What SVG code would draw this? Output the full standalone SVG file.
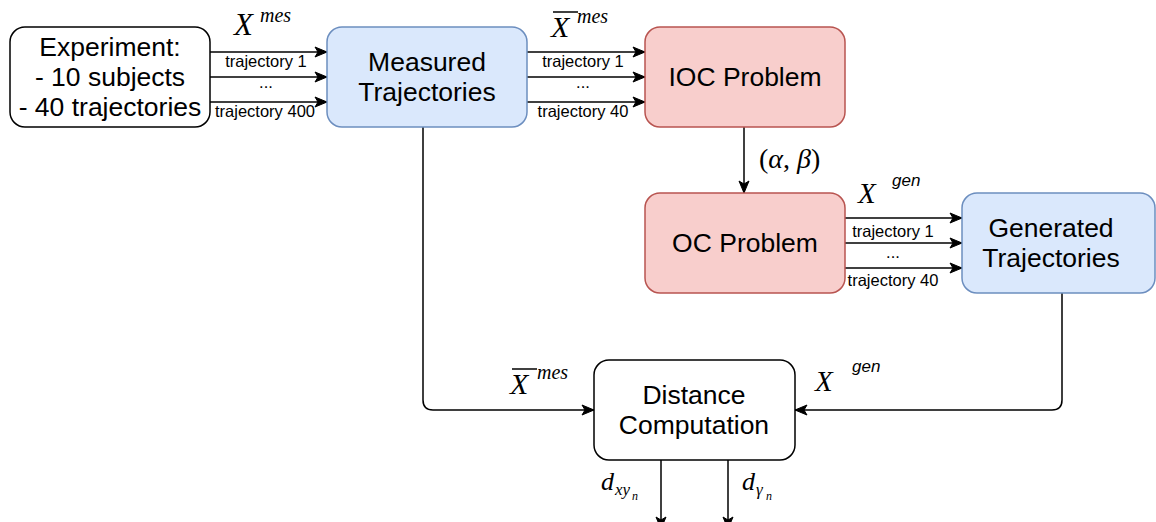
<svg xmlns="http://www.w3.org/2000/svg" width="1156" height="522" viewBox="0 0 1156 522">
<style>
.box{stroke-width:1.5}
.plain{fill:#ffffff;stroke:#000000}
.blue{fill:#dae8fc;stroke:#6c8ebf}
.red{fill:#f8cecc;stroke:#b85450}
.nt{font-family:"Liberation Sans",Arial,sans-serif;font-size:26.5px;fill:#000;text-anchor:middle}
.st{font-family:"Liberation Sans",Arial,sans-serif;font-size:16.5px;fill:#000;text-anchor:middle}
.m{font-family:"Liberation Serif","Times New Roman",serif;font-style:italic;fill:#000}
.mu{font-family:"Liberation Serif","Times New Roman",serif;fill:#000}
.ms{font-family:"Liberation Sans",Arial,sans-serif;font-style:italic;fill:#000}
.e{fill:none;stroke:#000;stroke-width:1.5}
</style>
<defs>
<marker id="arr" markerUnits="userSpaceOnUse" markerWidth="14" markerHeight="12" refX="12" refY="5" orient="auto" overflow="visible">
<path d="M0,0 L12,5 L0,10 L3,5 Z" fill="#000" stroke="#000" stroke-width="1"/>
</marker>
</defs>
<g id="connectors">
<line class="e" x1="210" y1="52" x2="327" y2="52" marker-end="url(#arr)"/>
<line class="e" x1="210" y1="77" x2="327" y2="77" marker-end="url(#arr)"/>
<line class="e" x1="210" y1="102" x2="327" y2="102" marker-end="url(#arr)"/>
<line class="e" x1="527" y1="52" x2="645" y2="52" marker-end="url(#arr)"/>
<line class="e" x1="527" y1="77" x2="645" y2="77" marker-end="url(#arr)"/>
<line class="e" x1="527" y1="102" x2="645" y2="102" marker-end="url(#arr)"/>
<line class="e" x1="744" y1="127" x2="744" y2="193" marker-end="url(#arr)"/>
<line class="e" x1="845" y1="218" x2="962" y2="218" marker-end="url(#arr)"/>
<line class="e" x1="845" y1="243" x2="962" y2="243" marker-end="url(#arr)"/>
<line class="e" x1="845" y1="268" x2="962" y2="268" marker-end="url(#arr)"/>
<path class="e" d="M423,127 L423,400 Q423,410 433,410 L594,410" marker-end="url(#arr)"/>
<path class="e" d="M1062,293 L1062,400 Q1062,410 1052,410 L795,410" marker-end="url(#arr)"/>
<line class="e" x1="661" y1="460" x2="661" y2="529" marker-end="url(#arr)"/>
<line class="e" x1="728" y1="460" x2="728" y2="529" marker-end="url(#arr)"/>
<text class="st" x="266" y="67">trajectory 1</text>
<text class="st" x="266" y="88">...</text>
<text class="st" x="265" y="117">trajectory 400</text>
<text class="st" x="583" y="67">trajectory 1</text>
<text class="st" x="583" y="88">...</text>
<text class="st" x="583" y="117">trajectory 40</text>
<text class="st" x="893" y="237">trajectory 1</text>
<text class="st" x="893" y="258">...</text>
<text class="st" x="893" y="286">trajectory 40</text>
<text class="m" x="234" y="35" font-size="31">X</text>
<text class="m" x="260" y="22" font-size="20">mes</text>
<line x1="553" y1="12" x2="578" y2="12" stroke="#000" stroke-width="1.5"/>
<text class="m" x="551" y="37" font-size="30">X</text>
<text class="m" x="577" y="23" font-size="20">mes</text>
<text x="759" y="168" font-size="28"><tspan class="mu">(</tspan><tspan class="m">α</tspan><tspan class="mu">, </tspan><tspan class="m">β</tspan><tspan class="mu">)</tspan></text>
<text class="m" x="858" y="203" font-size="29">X</text>
<text class="ms" x="892" y="186" font-size="17">gen</text>
<line x1="512" y1="369" x2="537" y2="369" stroke="#000" stroke-width="1.5"/>
<text class="m" x="510" y="394" font-size="30">X</text>
<text class="m" x="537" y="379" font-size="20">mes</text>
<text class="m" x="815" y="391" font-size="29">X</text>
<text class="ms" x="852" y="372" font-size="17">gen</text>
<text class="m" x="601" y="490" font-size="26">d</text>
<text class="m" x="615" y="495" font-size="17">xy</text>
<text class="m" x="632" y="500" font-size="12">n</text>
<text class="m" x="742" y="490" font-size="26">d</text>
<text class="m" x="756" y="495" font-size="17">γ</text>
<text class="m" x="766" y="500" font-size="12">n</text>
</g>
<g id="experiment">
<rect class="box plain" x="10" y="27" width="200" height="100" rx="15"/>
<text class="nt" x="110" y="56">Experiment:</text>
<text class="nt" x="110" y="86">- 10 subjects</text>
<text class="nt" x="110" y="116">- 40 trajectories</text>
</g>
<g id="measured">
<rect class="box blue" x="327" y="27" width="200" height="100" rx="15"/>
<text class="nt" x="427" y="71">Measured</text>
<text class="nt" x="427" y="101">Trajectories</text>
</g>
<g id="ioc">
<rect class="box red" x="645" y="27" width="200" height="100" rx="15"/>
<text class="nt" x="745" y="86">IOC Problem</text>
</g>
<g id="oc">
<rect class="box red" x="645" y="193" width="200" height="100" rx="15"/>
<text class="nt" x="745" y="252">OC Problem</text>
</g>
<g id="generated">
<rect class="box blue" x="962" y="193" width="193" height="100" rx="15"/>
<text class="nt" x="1051" y="237">Generated</text>
<text class="nt" x="1051" y="267">Trajectories</text>
</g>
<g id="distance">
<rect class="box plain" x="594" y="360" width="201" height="100" rx="15"/>
<text class="nt" x="694" y="404">Distance</text>
<text class="nt" x="694" y="434">Computation</text>
</g>
</svg>
